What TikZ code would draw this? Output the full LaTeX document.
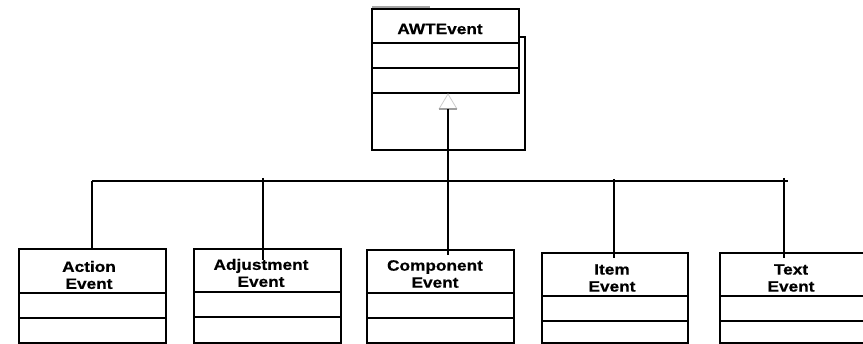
\documentclass[tikz,border=0pt]{standalone}
\usepackage{fontspec}
\setmainfont{Liberation Sans}[FakeStretch=1.15,FakeBold=0.6]
\begin{document}
\begin{tikzpicture}[x=1pt,y=-1pt,
  line width=1.1pt,
  classbox/.style={draw=black, line width=1.1pt, minimum width=#1, inner sep=0pt, rectangle},
  lbl/.style={font=\fontsize{15}{17}\selectfont\bfseries, align=center, inner sep=0pt},
  conn/.style={draw=black, line width=1.1pt}]
\useasboundingbox (0,0) rectangle (863,344);
\clip (0,0) rectangle (863,344);
% top class
\draw[gray!70, line width=1.2pt] (372,7) -- (430,7);
\node[classbox=147pt, minimum height=84pt] (awt) at (445.5,51) {};
\draw (372,43) -- (519,43);
\draw (372,68) -- (519,68);
\node[lbl] (awtlbl) at (440,29) {AWTEvent};
% outer frame
\draw (519,37) -- (525,37) -- (525,150) -- (372,150) -- (372,93);
% generalisation triangle
\coordinate (apex) at (448,94);
\coordinate (tl) at (439,109);
\coordinate (tr) at (457,109);
\draw[gray!40, line width=0.8pt] (tl) -- (apex) -- (tr);
\draw[gray!75, line width=1.5pt] (tl) -- (tr);
\coordinate (tb) at (448,109);
% bus
\coordinate (busL) at (92,181);
\coordinate (busR) at (788,181);
\draw[conn] (busL) -- (busR);
% subclasses
\node[classbox=147pt, minimum height=94pt] (action) at (92.5,296) {};
\draw (19,293) -- (166,293); \draw (19,318) -- (166,318);
\node[lbl] (actionlbl) at (89,275) {Action\\Event};

\node[classbox=147pt, minimum height=94pt] (adjust) at (267.5,296) {};
\draw (194,292) -- (341,292); \draw (194,317) -- (341,317);
\node[lbl] (adjustlbl) at (261,273) {Adjustment\\Event};

\node[classbox=147pt, minimum height=93pt] (comp) at (440.5,296.5) {};
\draw (367,293) -- (514,293); \draw (367,318) -- (514,318);
\node[lbl] (complbl) at (435,274) {Component\\Event};

\node[classbox=146pt, minimum height=90pt] (item) at (615,298) {};
\draw (542,296) -- (688,296); \draw (542,321) -- (688,321);
\node[lbl] (itemlbl) at (612,278) {Item\\Event};

\node[classbox=146pt, minimum height=90pt] (text) at (793,298) {};
\draw (720,296) -- (866,296); \draw (720,321) -- (866,321);
\node[lbl] (textlbl) at (791,278) {Text\\Event};

% connectors
\coordinate (c1) at (92,181);
\coordinate (c2) at (263,178);
\coordinate (c2e) at (263,260);
\coordinate (c3e) at (448,255);
\coordinate (c4) at (614,179);
\coordinate (c4e) at (614,258);
\coordinate (c5) at (784,178);
\coordinate (c5e) at (784,258);
\draw[conn] (c1) -- (c1 |- action.north);
\draw[conn] (c2) -- (c2e);
\draw[conn] (tb) -- (c3e);
\draw[conn] (c4) -- (c4e);
\draw[conn] (c5) -- (c5e);
\end{tikzpicture}
\end{document}
